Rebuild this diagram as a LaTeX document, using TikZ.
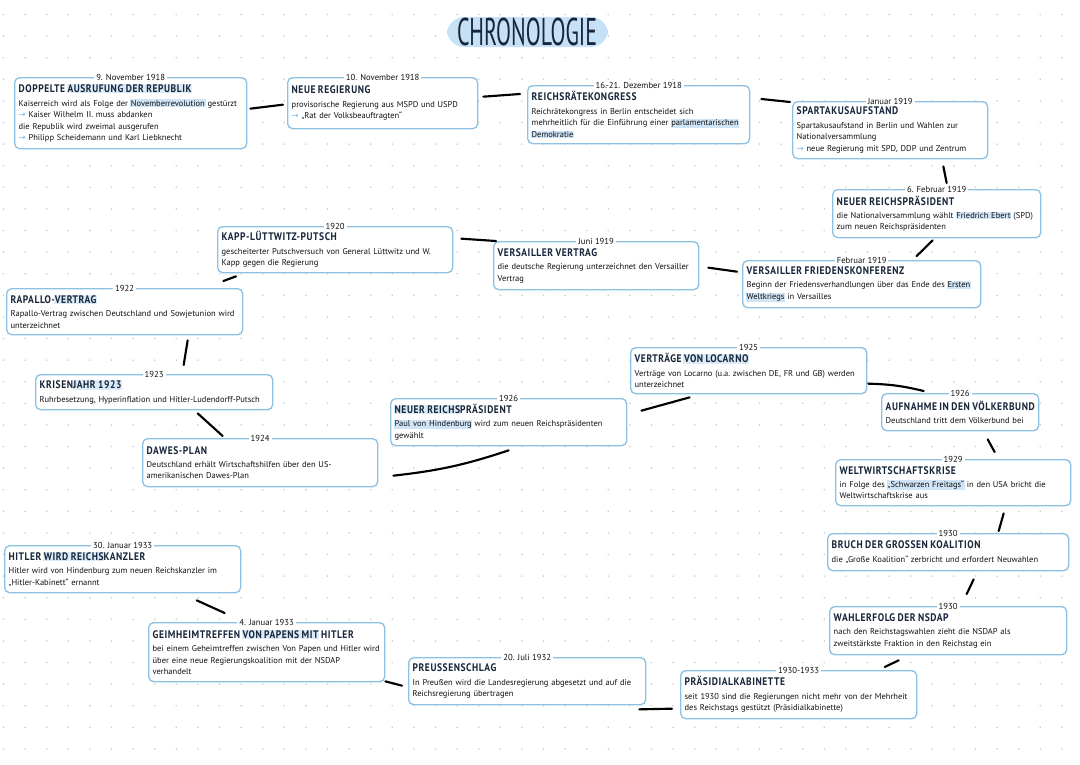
\documentclass[tikz,border=0pt]{standalone}
\usepackage{fontspec}
\usepackage{graphicx}
\usetikzlibrary{calc}
\newfontfamily\bodyf{PT Sans}
\newfontfamily\headf[LetterSpace=6]{PT Sans}
\newfontfamily\symf{DejaVu Sans}
\definecolor{boxblue}{HTML}{8DC1E3}
\definecolor{hlblue}{HTML}{CFE4F7}
\definecolor{hltblue}{HTML}{DCEBF8}
\definecolor{titlehl}{HTML}{C6E0F5}
\definecolor{navy}{HTML}{17263A}
\definecolor{bodyc}{HTML}{111111}
\definecolor{arrc}{HTML}{7FB6E0}
\definecolor{dotc}{HTML}{CDCDCD}
\newcommand\hl[1]{{\setlength{\fboxsep}{0.5pt}\hspace{-0.5pt}\colorbox{hlblue}{#1}\hspace{-0.5pt}}}
\newcommand\hlt[1]{{\setlength{\fboxsep}{0.5pt}\hspace{-0.5pt}\colorbox{hltblue}{#1}\hspace{-0.5pt}}}
\newcommand\head[1]{{\fontsize{8.2}{9}\headf\bfseries\color{navy}\scalebox{0.87}[1]{#1}}}
\newcommand\arr{{\symf\color{arrc}→}}
\tikzset{
  evbox/.style={draw=boxblue, line width=1pt, rounded corners=3.75pt, fill=white,
    inner xsep=3pt, inner ysep=1pt, align=left, text=bodyc,
    font=\fontsize{6.35}{8.6}\bodyf\frenchspacing},
  datelbl/.style={fill=white, inner xsep=1.5pt, inner ysep=0.3pt, text=bodyc,
    font=\fontsize{6.5}{7}\bodyf},
  conn/.style={line width=1.6pt, line cap=round, black},
}
% #1 name, #2 x, #3 y, #4 w, #5 h, #6 date, #7 content
\newcommand\evbox[7]{%
  \pgfmathsetlengthmacro\evtw{(#4-8)*0.75pt}%
  \pgfmathsetlengthmacro\evh{(#5)*0.75pt}%
  \node[evbox, text width=\evtw, minimum height=\evh, anchor=north west] (#1) at (#2,#3) {#7};
  \node[datelbl] (#1-d) at (#1.north) {#6};
}
\begin{document}
\begin{tikzpicture}[x=0.75pt, y=-0.75pt]
\useasboundingbox (0,0) rectangle (1080,764);
\fill[white] (0,0) rectangle (1080,764);
% dot grid
\foreach \i in {0,...,49} {
  \foreach \j in {0,...,35} {
    \fill[dotc] (3.5+21.6*\i, 14.5+21.6*\j) circle (0.9);
  }
}
% title
\fill[titlehl, rounded corners=13pt] (447,17) rectangle (608,47);
\node[text=navy, inner sep=0pt] (title) at (527,32)
  {\scalebox{0.565}[1]{\fontsize{29}{30}\bodyf CHRONOLOGIE}};

\evbox{b1}{14}{77}{232}{71}{9. November 1918}{%
\head{DOPPELTE \hlt{AUSRUFUNG DER REPUBLIK}}\\[1.5pt]
Kaiserreich wird als Folge der \hl{Novemberrevolution} gestürzt\\
\arr{} Kaiser Wilhelm II. muss abdanken\\
die Republik wird zweimal ausgerufen\\
\arr{} Philipp Scheidemann und Karl Liebknecht}

\evbox{b2}{287}{77}{190}{51}{10. November 1918}{%
\head{NEUE REGIERUNG}\\[1.5pt]
provisorische Regierung aus MSPD und USPD\\
\arr{} „Rat der Volksbeauftragten“}

\evbox{b3}{527}{85}{222}{58}{16.-21. Dezember 1918}{%
\head{REICHSRÄTEKONGRESS}\\[1.5pt]
Reichrätekongress in Berlin entscheidet sich\\
mehrheitlich für die Einführung einer \hl{parlamentarischen}\\
\hl{Demokratie}}

\evbox{b4}{792}{101}{195}{57}{Januar 1919}{%
\head{SPARTAKUSAUFSTAND}\\[1.5pt]
Spartakusaufstand in Berlin und Wahlen zur\\
Nationalversammlung\\
\arr{} neue Regierung mit SPD, DDP und Zentrum}

\evbox{b5}{832}{189}{208}{48}{6. Februar 1919}{%
\head{NEUER REICHSPRÄSIDENT}\\[1.5pt]
die Nationalversammlung wählt \hl{Friedrich Ebert} (SPD)\\
zum neuen Reichspräsidenten}

\evbox{b6}{742}{260}{238}{47}{Februar 1919}{%
\head{VERSAILLER FRIEDENSKONFERENZ}\\[1.5pt]
Beginn der Friedensverhandlungen über das Ende des \hl{Ersten}\\
\hl{Weltkriegs} in Versailles}

\evbox{b7}{493}{241}{205}{48}{Juni 1919}{%
\head{VERSAILLER VERTRAG}\\[1.5pt]
die deutsche Regierung unterzeichnet den Versailler\\
Vertrag}

\evbox{b8}{217}{226}{235}{46}{1920}{%
\head{KAPP-LÜTTWITZ-PUTSCH}\\[1.5pt]
gescheiterter Putschversuch von General Lüttwitz und W.\\
Kapp gegen die Regierung}

\evbox{b9}{6}{288}{236}{46}{1922}{%
\head{RAPALLO-\hlt{VERTRAG}}\\[1.5pt]
Rapallo-Vertrag zwischen Deutschland und Sowjetunion wird\\
unterzeichnet}

\evbox{b10}{35}{374}{237}{35}{1923}{%
\head{KRISEN\hlt{JAHR 1923}}\\[1.5pt]
Ruhrbesetzung, Hyperinflation und Hitler-Ludendorff-Putsch}

\evbox{b11}{142}{438}{235}{48}{1924}{%
\head{DAWES-PLAN}\\[1.5pt]
Deutschland erhält Wirtschaftshilfen über den US-\\
amerikanischen Dawes-Plan}

\evbox{b12}{390}{398}{236}{47}{1926}{%
\head{\hlt{NEUER REICHS}PRÄSIDENT}\\[1.5pt]
\hl{Paul von Hindenburg} wird zum neuen Reichspräsidenten\\
gewählt}

\evbox{b13}{630}{347}{236}{46}{1925}{%
\head{VERTRÄGE \hlt{VON LOCARNO}}\\[1.5pt]
Verträge von Locarno (u.a. zwischen DE, FR und GB) werden\\
unterzeichnet}

\evbox{b14}{881}{393}{157}{37}{1926}{%
\head{AUFNAHME IN DEN VÖLKERBUND}\\[1.5pt]
Deutschland tritt dem Völkerbund bei}

\evbox{b15}{835}{459}{235}{46}{1929}{%
\head{WELTWIRTSCHAFTSKRISE}\\[1.5pt]
in Folge des \hl{„Schwarzen Freitags“} in den USA bricht die\\
Weltwirtschaftskrise aus}

\evbox{b16}{827}{533}{241}{37}{1930}{%
\head{BRUCH DER GROSSEN KOALITION}\\[1.5pt]
die „Große Koalition“ zerbricht und erfordert Neuwahlen}

\evbox{b17}{829}{606}{237}{48}{1930}{%
\head{WAHLERFOLG DER NSDAP}\\[1.5pt]
nach den Reichstagswahlen zieht die NSDAP als\\
zweitstärkste Fraktion in den Reichstag ein}

\evbox{b18}{680}{670}{236}{48}{1930-1933}{%
\head{PRÄSIDIALKABINETTE}\\[1.5pt]
seit 1930 sind die Regierungen nicht mehr von der Mehrheit\\
des Reichstags gestützt (Präsidialkabinette)}

\evbox{b19}{408}{657}{237}{47}{20. Juli 1932}{%
\head{PREUSSENSCHLAG}\\[1.5pt]
In Preußen wird die Landesregierung abgesetzt und auf die\\
Reichsregierung übertragen}

\evbox{b20}{148}{622}{236}{59}{4. Januar 1933}{%
\head{GEIMHEIMTREFFEN \hlt{VON PAPENS MIT} HITLER}\\[1.5pt]
bei einem Geheimtreffen zwischen Von Papen und Hitler wird\\
über eine neue Regierungskoalition mit der NSDAP\\
verhandelt}

\evbox{b21}{4}{545}{236}{47}{30. Januar 1933}{%
\head{HITLER \hlt{WIRD REICHS}KANZLER}\\[1.5pt]
Hitler wird von Hindenburg zum neuen Reichskanzler im\\
„Hitler-Kabinett“ ernannt}

% connectors
\draw[conn] ($(b1.east)+(3,-4.5)$) -- ($(b2.west)+(-4,1.5)$);
\draw[conn] ($(b2.east)+(5,-6.5)$) -- ($(b3.north west)+(-7,9)$);
\draw[conn] ($(b3.north east)+(11,14)$) -- ($(b4.north west)+(-2,1)$);
\draw[conn] ($(b4.south east)+(-45,7)$) -- ($(b5.north)+(10,-6)$);
\draw[conn] ($(b5.south)+(-4,2)$) -- ($(b6.north)+(55,-4)$);
\draw[conn] ($(b6.west)+(-5,-12.5)$) -- ($(b7.east)+(9,2)$);
\draw[conn] ($(b7.north west)+(3,0)$) -- ($(b8.east)+(8,-11)$);
\draw[conn] ($(b8.south west)+(19,3)$) -- ($(b9.north east)+(-20,-7)$);
\draw[conn] ($(b9.south)+(63,5)$) -- ($(b10.north)+(29.5,-9)$);
\draw[conn] ($(b10.south)+(43.5,3)$) -- ($(b11.north)+(-37.5,-2)$);
\draw[conn] ($(b11.east)+(15,13)$) to[bend right=6] ($(b12.south)+(0,4)$);
\draw[conn] ($(b12.east)+(14,-11.5)$) -- ($(b13.south)+(-59,3)$);
\draw[conn] ($(b13.east)+(1,13)$) to[bend left=6] ($(b14.north)+(-36.5,-2)$);
\draw[conn] ($(b14.south)+(27.5,8)$) -- ($(b15.north)+(41.5,-7)$);
\draw[conn] ($(b15.south)+(50.5,7)$) -- ($(b16.north)+(50.5,-2)$);
\draw[conn] ($(b16.south)+(25.5,8)$) -- ($(b17.north)+(18.5,-12)$);
\draw[conn] ($(b17.south)+(-49.5,5)$) -- ($(b18.north)+(86,-3)$);
\draw[conn] ($(b18.west)+(-8,14)$) -- ($(b19.south east)+(-7,4)$);
\draw[conn] ($(b19.west)+(-6,4.5)$) -- ($(b20.south east)+(0,-1)$);
\draw[conn] ($(b20.north)+(-42,-9)$) -- ($(b21.south)+(74,7)$);
\end{tikzpicture}
\end{document}
